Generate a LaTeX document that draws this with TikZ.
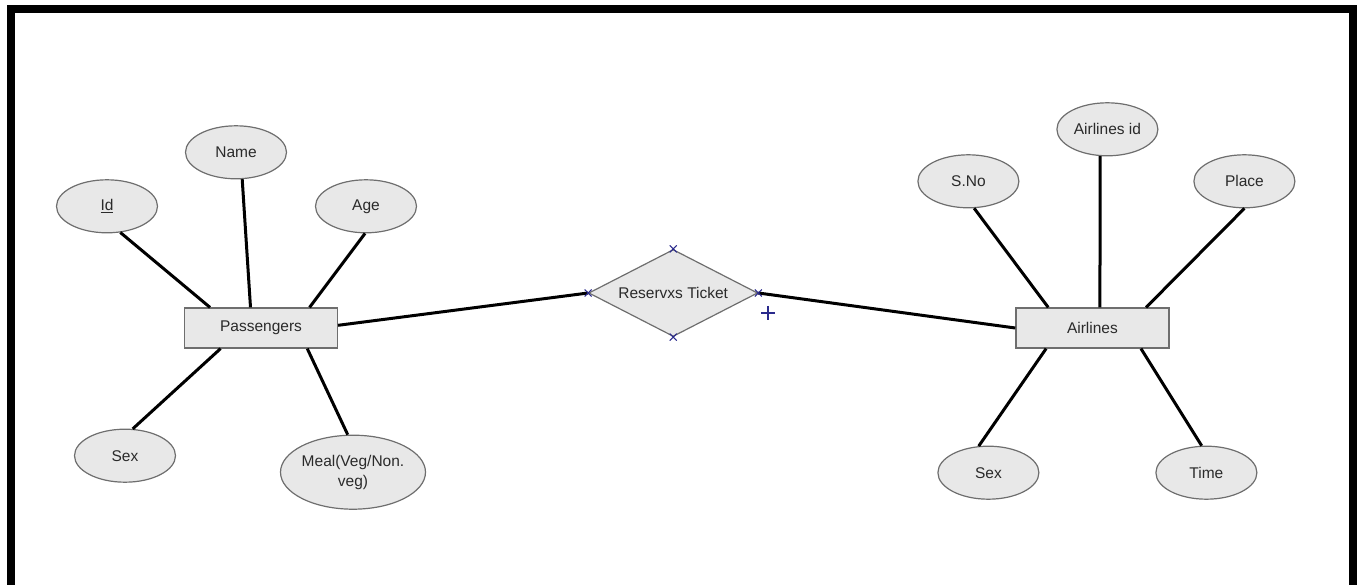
\documentclass[tikz,border=0pt]{standalone}
\usepackage{fontspec}
\setmainfont{Liberation Sans}
\usepackage{tikz}
\usetikzlibrary{positioning,shapes.geometric,shapes.misc}

\definecolor{edgegray}{HTML}{6E6E6E}
\definecolor{fillgray}{HTML}{E8E8E8}
\definecolor{textgray}{HTML}{2A2A2A}
\definecolor{handblue}{HTML}{2A2A8C}

\begin{document}
\begin{tikzpicture}[
        x=1pt, y=-1pt,
        every node/.style={font=\fontsize{15.5}{20}\selectfont, text=textgray},
        entity/.style={draw=edgegray, line width=1.2pt, fill=fillgray, minimum width=153pt, minimum height=40pt, inner sep=0pt},
        attr/.style={ellipse, draw=edgegray, line width=1.2pt, fill=fillgray, minimum width=101pt, minimum height=53pt, inner sep=0pt},
        rel/.style={diamond, draw=edgegray, line width=1.2pt, fill=fillgray, aspect=1.94, minimum width=169pt, minimum height=87pt, inner sep=0pt},
        link/.style={line width=3pt},
        handle/.style={cross out, draw=handblue, line width=1pt, minimum size=6pt, inner sep=0pt}
    ]
      \useasboundingbox (0,0) rectangle (1357,585);
      \draw[line width=8pt] (11,9) rectangle (1353,589);

      \node[entity] (pass) at (261,328) {Passengers};
      \node[rel, right=250pt of pass, yshift=35pt] (res) {Reservxs Ticket};
      \node[entity, right=257pt of res, yshift=-35pt] (air) {Airlines};

      % attributes of Passengers
      \node[attr, above=74pt of pass, xshift=-154pt] (pid) {\underline{Id}};
      \node[attr, above=128pt of pass, xshift=-25pt] (pname) {Name};
      \node[attr, above=74pt of pass, xshift=105pt] (page) {Age};
      \node[attr, below=80pt of pass, xshift=-136pt] (psex) {Sex};
      \node[attr, below=86pt of pass, xshift=92pt, minimum width=140pt, minimum height=74pt, align=center] (meal) {Meal(Veg/Non.\\veg)};

      % attributes of Airlines
      \node[attr, above=99pt of air, xshift=-124pt] (sno) {S.No};
      \node[attr, above=151pt of air, xshift=15pt] (aid) {Airlines id};
      \node[attr, above=99pt of air, xshift=152pt] (place) {Place};
      \node[attr, below=97pt of air, xshift=-104pt] (asex) {Sex};
      \node[attr, below=97pt of air, xshift=114pt] (time) {Time};

      \draw[link] (pid.297) -- (pass.158);
      \draw[link] (pname.283) -- (pass.117);
      \draw[link] (page.268) -- (pass.23);
      \draw[link] (psex.74) -- (pass.207);
      \draw[link] (meal.98) -- (pass.336);
      \draw[link] (pass.2) -- (res.west);

      \draw[link] (sno.282) -- (air.155);
      \draw[link] (aid.255) -- (air.70);
      \draw[link] (place.270) -- (air.21);
      \draw[link] (asex.110) -- (air.204);
      \draw[link] (time.100) -- (air.337);
      \draw[link] (res.east) -- (air.west);

      % selection handles on the relationship
      \foreach \a in {north,south,east,west}
        \node[handle] at (res.\a) {};
      \coordinate (cur) at ([shift={(10,20)}]res.east);
      \draw[handblue, line width=2.2pt] (cur) ++(0,-7) -- ++(0,14) (cur) ++(-7,0) -- ++(14,0);
    \end{tikzpicture}
\end{document}
